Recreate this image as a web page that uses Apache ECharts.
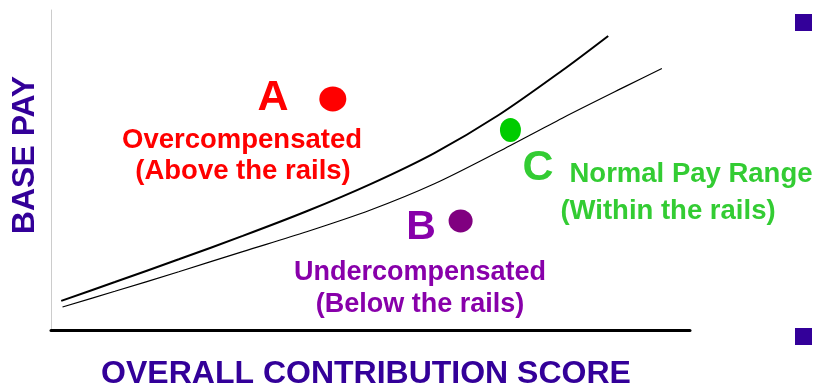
<!DOCTYPE html>
<html>
<head>
<meta charset="utf-8">
<script src="https://cdn.jsdelivr.net/npm/echarts@6/dist/echarts.min.js"></script>
<style>
  html, body { margin: 0; padding: 0; background: #fff; }
  #main { width: 818px; height: 388px; }
</style>
</head>
<body>
<div id="main"></div>
<script>
// 曲线数据 (评分 0-100, 薪资 0-100)
const upperRail = [[1.6, 9.1], [10, 15.0], [20, 22.1], [30, 29.4], [40, 37.1], [50, 45.6], [60, 55.3], [70, 67.1], [80, 81.1], [87.2, 91.9]];
const lowerRail = [[1.8, 7.2], [10, 12.1], [20, 18.2], [30, 24.5], [40, 30.7], [50, 37.5], [60, 45.7], [70, 55.7], [80, 66.2], [90, 76.2], [95.6, 81.7]];
// 员工点
const pointA = [44.1, 72.2];
const pointB = [64.1, 34.1];
const pointC = [71.9, 62.5];

const navy = '#330099';
const font = 'Liberation Sans, Arial, sans-serif';

const chart = echarts.init(document.getElementById('main'));

function txt(x, y, text, size, color) {
    return {
        type: 'text', x: x, y: y,
        style: { text: text, fontSize: size, fontWeight: 'bold', fontFamily: font, fill: color, align: 'center', verticalAlign: 'middle' }
    };
}

const option = {
    animation: false,
    grid: { left: 51, right: 128, top: 10, bottom: 58 },
    xAxis: {
        type: 'value', min: 0, max: 100,
        axisLine: { show: true, lineStyle: { color: '#000', width: 3 } },
        axisTick: { show: false }, axisLabel: { show: false }, splitLine: { show: false }
    },
    yAxis: {
        type: 'value', min: 0, max: 100,
        axisLine: { show: true, lineStyle: { color: '#cccccc', width: 1 } },
        axisTick: { show: false }, axisLabel: { show: false }, splitLine: { show: false }
    },
    series: [
        {
            type: 'line', data: upperRail, smooth: 0.3, symbol: 'none',
            lineStyle: { color: '#000', width: 2 }
        },
        {
            type: 'line', data: lowerRail, smooth: 0.3, symbol: 'none',
            lineStyle: { color: '#000', width: 1.2 }
        },
        {
            type: 'scatter',
            itemStyle: { opacity: 1 },
            data: [
                { value: pointA, symbolSize: [27, 25], itemStyle: { color: '#ff0000' } },
                { value: pointC, symbolSize: [21, 24], itemStyle: { color: '#00cc00' } },
                { value: pointB, symbolSize: [24, 23], itemStyle: { color: '#800080' } }
            ]
        }
    ],
    graphic: [
        txt(273, 98, 'A', 43, '#ff0000'),
        txt(242, 140, 'Overcompensated', 27.5, '#ff0000'),
        txt(243, 171, '(Above the rails)', 27.5, '#ff0000'),
        txt(538, 168, 'C', 43, '#33cc33'),
        txt(691, 174, 'Normal Pay Range', 27.5, '#33cc33'),
        txt(668, 211, '(Within the rails)', 27.5, '#33cc33'),
        txt(421, 228, 'B', 41, '#8800aa'),
        txt(420, 273, 'Undercompensated', 27, '#8800aa'),
        txt(420, 305, '(Below the rails)', 27, '#8800aa'),
        txt(366, 374, 'OVERALL CONTRIBUTION SCORE', 32, navy),
        {
            type: 'text', x: 25, y: 155, rotation: Math.PI / 2,
            style: { text: 'BASE PAY', fontSize: 32, fontWeight: 'bold', fontFamily: font, fill: navy, align: 'center', verticalAlign: 'middle' }
        },
        { type: 'rect', shape: { x: 795, y: 14, width: 17, height: 17 }, style: { fill: navy } },
        { type: 'rect', shape: { x: 795, y: 328, width: 17, height: 17 }, style: { fill: navy } }
    ]
};

chart.setOption(option);
</script>
</body>
</html>
